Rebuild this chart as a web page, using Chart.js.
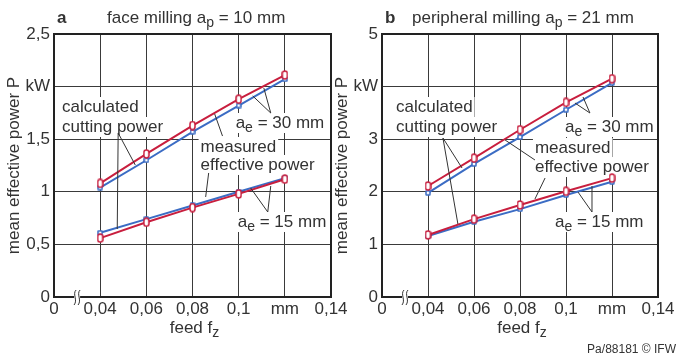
<!DOCTYPE html>
<html>
<head>
<meta charset="utf-8">
<script src="https://cdn.jsdelivr.net/npm/chart.js@4.4.0/dist/chart.umd.min.js"></script>
<style>
  html, body { margin: 0; padding: 0; background: #fff; }
  #wrap { position: relative; width: 678px; height: 358px; }
  #wrap canvas { position: absolute; left: 0; top: 0; }
</style>
</head>
<body>
<div id="wrap">
  <canvas id="faceChart" width="678" height="358"></canvas>
  <canvas id="periChart" width="678" height="358"></canvas>
</div>
<script>
const feedValues = [0.04, 0.06, 0.08, 0.1, 0.12];
const xTickValues = [0.02, 0.04, 0.06, 0.08, 0.1, 0.12, 0.14];
const xTickLabels = ["0", "0,04", "0,06", "0,08", "0,1", "mm", "0,14"];

const faceTickValues = [0, 0.5, 1, 1.5, 2, 2.5];
const faceTickLabels = ["0", "0,5", "1", "1,5", "kW", "2,5"];
const periTickValues = [0, 1, 2, 3, 4, 5];
const periTickLabels = ["0", "1", "2", "3", "kW", "5"];

// face milling ap = 10 mm
const faceMeasured30 = [1.08, 1.36, 1.63, 1.88, 2.11];
const faceCalculated30 = [1.04, 1.30, 1.57, 1.82, 2.07];
const faceMeasured15 = [0.56, 0.71, 0.85, 0.98, 1.12];
const faceCalculated15 = [0.61, 0.74, 0.87, 1.00, 1.13];

// peripheral milling ap = 21 mm
const periMeasured30 = [2.11, 2.64, 3.18, 3.70, 4.15];
const periCalculated30 = [1.98, 2.53, 3.04, 3.56, 4.07];
const periMeasured15 = [1.18, 1.48, 1.75, 2.01, 2.26];
const periCalculated15 = [1.16, 1.43, 1.67, 1.94, 2.19];

const RED = "#c81e3e";
const BLUE = "#3b6cc4";
const INK = "#333";
const FONT = '"Liberation Sans", Arial, sans-serif';

function makeMarker(w, h, r, color) {
  const c = document.createElement("canvas");
  c.width = w + 2;
  c.height = h + 2;
  const ctx = c.getContext("2d");
  ctx.beginPath();
  ctx.roundRect(1, 1, w, h, r);
  ctx.fillStyle = "#fff";
  ctx.fill();
  ctx.lineWidth = 1.5;
  ctx.strokeStyle = color;
  ctx.stroke();
  return c;
}
const redMarker = makeMarker(5, 8, 2.5, RED);
const blueMarker = makeMarker(4, 4, 0.5, BLUE);

function series(values, color, marker) {
  return {
    data: feedValues.map((x, i) => ({ x, y: values[i] })),
    borderColor: color,
    borderWidth: 2,
    pointStyle: marker,
    tension: 0,
  };
}

// text with "_x" single-character subscripts
function richParts(str) {
  const parts = [];
  let buf = "";
  for (let i = 0; i < str.length; i++) {
    if (str[i] === "_" && i + 1 < str.length) {
      if (buf) parts.push({ t: buf, sub: false });
      parts.push({ t: str[i + 1], sub: true });
      buf = "";
      i++;
    } else {
      buf += str[i];
    }
  }
  if (buf) parts.push({ t: buf, sub: false });
  return parts;
}

function subSize(size) {
  return Math.round(size * 0.85);
}

function richWidth(ctx, str, size) {
  return richParts(str).reduce((w, p) => {
    ctx.font = `${p.sub ? subSize(size) : size}px ${FONT}`;
    return w + ctx.measureText(p.t).width;
  }, 0);
}

function drawRich(ctx, str, x, y, size, align) {
  const w = richWidth(ctx, str, size);
  let cx = align === "center" ? x - w / 2 : x;
  ctx.textBaseline = "middle";
  ctx.textAlign = "left";
  ctx.fillStyle = INK;
  richParts(str).forEach((p) => {
    ctx.font = `${p.sub ? subSize(size) : size}px ${FONT}`;
    ctx.fillText(p.t, cx, p.sub ? y + 5 : y);
    cx += ctx.measureText(p.t).width;
  });
}

function makeDecor(cfg) {
  return {
    id: "decor",
    beforeDatasetsDraw(chart) {
      const { ctx, scales } = chart;
      ctx.save();
      ctx.fillStyle = "#fff";
      cfg.notes.forEach((n) => {
        const px = scales.x.getPixelForValue(n.x);
        const py = scales.y.getPixelForValue(n.y);
        const w = richWidth(ctx, n.text, 17);
        ctx.fillRect(px - 2, py - 10, w + 4, 20);
      });
      ctx.restore();
    },
    afterDatasetsDraw(chart) {
      const { ctx, scales, chartArea: a } = chart;
      ctx.save();
      // leader lines
      ctx.strokeStyle = INK;
      ctx.lineWidth = 1;
      cfg.leaders.forEach(([p, q]) => {
        ctx.beginPath();
        ctx.moveTo(scales.x.getPixelForValue(p[0]), scales.y.getPixelForValue(p[1]));
        ctx.lineTo(scales.x.getPixelForValue(q[0]), scales.y.getPixelForValue(q[1]));
        ctx.stroke();
      });
      cfg.notes.forEach((n) => {
        drawRich(ctx, n.text, scales.x.getPixelForValue(n.x), scales.y.getPixelForValue(n.y), 17, "left");
      });

      // frame
      ctx.strokeStyle = "#222";
      ctx.lineWidth = 2;
      ctx.strokeRect(a.left, a.top, a.right - a.left, a.bottom - a.top);

      // axis break
      const bx = scales.x.getPixelForValue(0.03);
      ctx.fillStyle = "#fff";
      ctx.fillRect(bx - 3, a.bottom - 2, 6, 4);
      ctx.strokeStyle = INK;
      ctx.lineWidth = 1;
      [-2, 2].forEach((dx) => {
        ctx.beginPath();
        ctx.moveTo(bx + dx + 1, a.bottom - 7);
        ctx.bezierCurveTo(bx + dx - 3, a.bottom - 3, bx + dx + 3, a.bottom + 3, bx + dx - 1, a.bottom + 8);
        ctx.stroke();
      });

      // panel letter + title
      ctx.fillStyle = INK;
      ctx.textBaseline = "middle";
      ctx.textAlign = "left";
      ctx.font = `bold 17px ${FONT}`;
      ctx.fillText(cfg.letter, a.left + 3, a.top - 16);
      drawRich(ctx, cfg.title, a.left + cfg.titleOffset, a.top - 16, 17, "left");

      // axis titles
      drawRich(ctx, "feed f_z", (a.left + a.right) / 2 + 2, a.bottom + 31, 17, "center");
      ctx.save();
      ctx.translate(a.left - 40, (a.top + a.bottom) / 2);
      ctx.rotate(-Math.PI / 2);
      drawRich(ctx, "mean effective power P", 0, 0, 17, "center");
      ctx.restore();

      if (cfg.footer) {
        ctx.font = `12px ${FONT}`;
        ctx.textAlign = "right";
        ctx.fillStyle = INK;
        ctx.fillText(cfg.footer, 676, 350);
      }
      ctx.restore();
    },
  };
}

function buildChart(id, opts) {
  return new Chart(document.getElementById(id), {
    type: "line",
    data: {
      datasets: [
        series(opts.measured30, RED, redMarker),
        series(opts.measured15, RED, redMarker),
        series(opts.calculated30, BLUE, blueMarker),
        series(opts.calculated15, BLUE, blueMarker),
      ],
    },
    options: {
      responsive: false,
      animation: false,
      devicePixelRatio: 1,
      layout: { padding: opts.padding },
      plugins: { legend: { display: false }, tooltip: { enabled: false } },
      scales: {
        x: {
          type: "linear",
          min: 0.02,
          max: 0.14,
          afterBuildTicks: (s) => { s.ticks = xTickValues.map((v) => ({ value: v })); },
          afterFit: (s) => { s.height = 40; },
          ticks: {
            autoSkip: false,
            maxRotation: 0,
            padding: 2,
            color: INK,
            font: { family: FONT, size: 17 },
            callback: (v, i) => xTickLabels[i],
          },
          grid: { color: "#3a3a3a", lineWidth: 1, drawTicks: false },
          border: { display: false },
        },
        y: {
          type: "linear",
          min: opts.yTicks[0],
          max: opts.yTicks[opts.yTicks.length - 1],
          afterBuildTicks: (s) => { s.ticks = opts.yTicks.map((v) => ({ value: v })); },
          afterFit: (s) => { s.width = 50; },
          ticks: {
            padding: 4,
            color: INK,
            font: { family: FONT, size: 17 },
            callback: (v, i) => opts.yLabels[i],
          },
          grid: { color: "#3a3a3a", lineWidth: 1, drawTicks: false },
          border: { display: false },
        },
      },
    },
    plugins: [makeDecor(opts.decor)],
  });
}

buildChart("faceChart", {
  measured30: faceMeasured30,
  calculated30: faceCalculated30,
  measured15: faceMeasured15,
  calculated15: faceCalculated15,
  yTicks: faceTickValues,
  yLabels: faceTickLabels,
  padding: { left: 4, right: 347, top: 34, bottom: 21 },
  decor: {
    letter: "a",
    title: "face milling a_p = 10 mm",
    titleOffset: 53,
    notes: [
      { x: 0.0235, y: 1.806, text: "calculated" },
      { x: 0.0235, y: 1.616, text: "cutting power" },
      { x: 0.0835, y: 1.426, text: "measured" },
      { x: 0.0835, y: 1.255, text: "effective power" },
      { x: 0.0987, y: 1.654, text: "a_e = 30 mm" },
      { x: 0.0996, y: 0.713, text: "a_e = 15 mm" },
    ],
    leaders: [
      [[0.0478, 1.559], [0.0552, 1.255]],
      [[0.0478, 1.559], [0.0474, 0.646]],
      [[0.0930, 1.530], [0.0896, 1.740]],
      [[0.0870, 1.179], [0.0857, 0.951]],
      [[0.1139, 1.749], [0.1061, 1.911]],
      [[0.1139, 1.749], [0.1109, 1.987]],
      [[0.1126, 0.808], [0.1052, 1.036]],
      [[0.1126, 0.808], [0.1139, 1.055]],
    ],
  },
});

buildChart("periChart", {
  measured30: periMeasured30,
  calculated30: periCalculated30,
  measured15: periMeasured15,
  calculated15: periCalculated15,
  yTicks: periTickValues,
  yLabels: periTickLabels,
  padding: { left: 332, right: 20, top: 34, bottom: 21 },
  decor: {
    letter: "b",
    title: "peripheral milling a_p = 21 mm",
    titleOffset: 30,
    footer: "Pa/88181 \u00A9 IFW",
    notes: [
      { x: 0.0261, y: 3.612, text: "calculated" },
      { x: 0.0261, y: 3.232, text: "cutting power" },
      { x: 0.0865, y: 2.833, text: "measured" },
      { x: 0.0865, y: 2.471, text: "effective power" },
      { x: 0.0996, y: 3.232, text: "a_e = 30 mm" },
      { x: 0.0952, y: 1.426, text: "a_e = 15 mm" },
    ],
    leaders: [
      [[0.0465, 3.023], [0.0548, 2.452]],
      [[0.0465, 3.023], [0.0530, 1.388]],
      [[0.0865, 2.605], [0.0735, 2.985]],
      [[0.0909, 2.262], [0.0865, 1.863]],
      [[0.1104, 3.498], [0.1039, 3.688]],
      [[0.1104, 3.498], [0.1074, 3.802]],
      [[0.1113, 1.616], [0.1052, 1.996]],
      [[0.1113, 1.616], [0.1113, 2.110]],
    ],
  },
});
</script>
</body>
</html>
